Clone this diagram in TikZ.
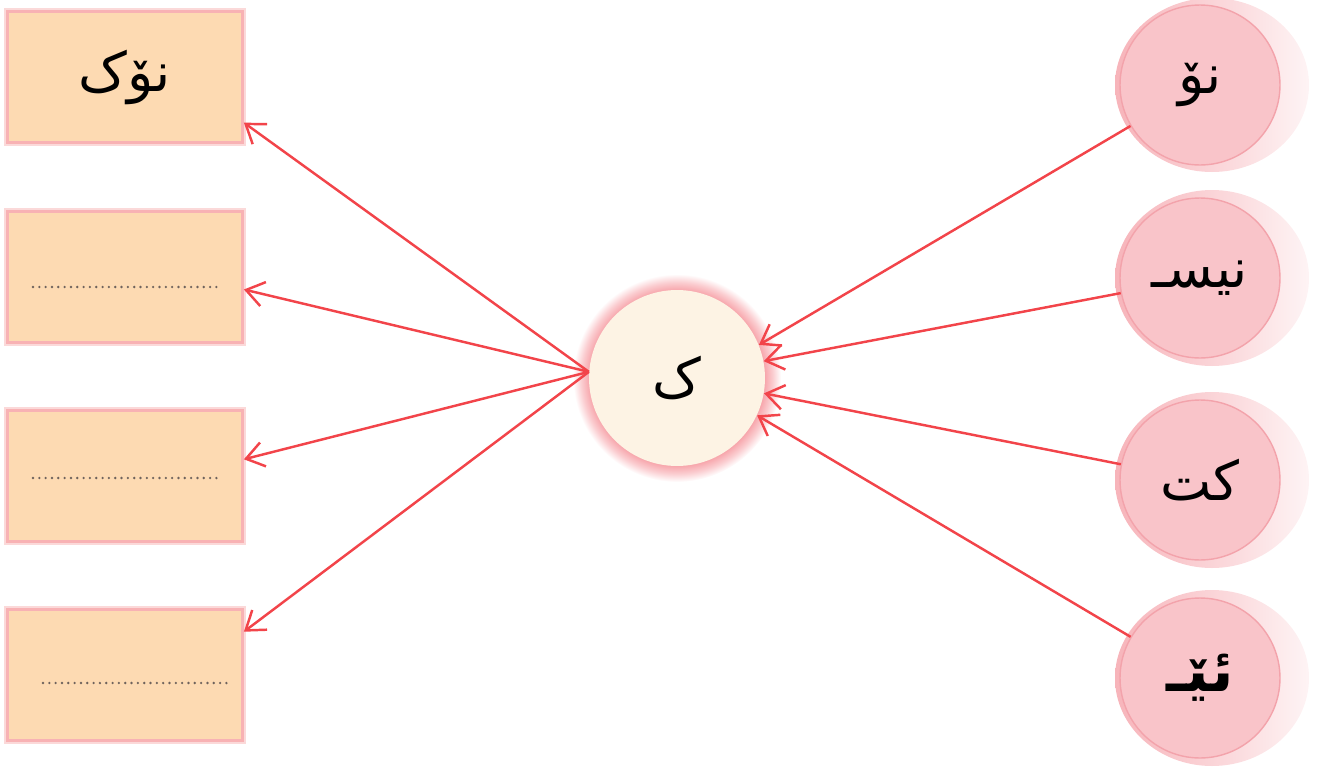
\documentclass[tikz,border=0pt]{standalone}
\usepackage{fontspec}
\usepackage{xcolor}
\usepackage{tikz}
\usetikzlibrary{arrows.meta}
\newfontfamily\arabicfont[Script=Arabic]{DejaVu Sans}
\TeXXeTstate=1
\definecolor{cred}{HTML}{F2444A}
\definecolor{cbox}{HTML}{FDDAB2}
\definecolor{cedge}{HTML}{F8B2B4}
\definecolor{ccream}{HTML}{FDF3E4}
\definecolor{cglow}{HTML}{F7A4AA}
\definecolor{cpink}{HTML}{F9C4C9}
\definecolor{cring}{HTML}{F3A3AB}
\definecolor{crim}{HTML}{F7B4BA}
\definecolor{cdots}{HTML}{6E625C}
\pgfdeclareradialshading{cenglow}{\pgfpoint{0bp}{0bp}}{%
  color(0bp)=(cglow); color(21bp)=(cglow); color(23bp)=(cglow!55!white);
  color(25bp)=(white); color(50bp)=(white)}

\begin{document}
\begin{tikzpicture}[x=0.02cm,y=-0.02cm,
  wordbox/.style={draw=cedge,fill=cbox,line width=1.6pt,
    minimum width=4.7cm,minimum height=2.62cm,
    preaction={draw=cedge!50,line width=4pt},
    font=\arabicfont\fontsize{31}{37}\selectfont},
  letterdisc/.style={circle,draw=cring,fill=cpink,line width=0.8pt,
    minimum size=3.2cm,inner sep=0pt,
    font=\arabicfont\fontsize{31}{37}\selectfont},
  arr/.style={cred,line width=1.4pt,-{Straight Barb[length=10pt,width=14pt,line width=1.4pt]}},
  dotrule/.style={cdots,line width=1.5pt,line cap=round,dash pattern=on 0pt off 3.6pt}]
  \useasboundingbox (0,0) rectangle (1323,771);

  % left boxes
  \node[wordbox] (b1) at (125,77) {\beginR نۆک\endR};
  \node[wordbox] (b2) at (125,277) {};
  \node[wordbox] (b3) at (125,476) {};
  \node[wordbox] (b4) at (125,675) {};
  \draw[dotrule] (33,287) -- (220,287);
  \draw[dotrule] (33,478) -- (220,478);
  \draw[dotrule] (43,683) -- (230,683);

  % centre letter
  \shade[shading=cenglow] (677,378) circle (104);
  \node[circle,fill=ccream,minimum size=3.52cm,inner sep=0pt,
    font=\arabicfont\fontsize{31}{37}\selectfont] (cen) at (677,378) {\beginR ک\endR};

  % right discs
  \shade[left color=crim,right color=white!85!crim] (1212,85) ellipse (97 and 87);
  \shade[left color=crim,right color=white!85!crim] (1212,278) ellipse (97 and 88);
  \shade[left color=crim,right color=white!85!crim] (1212,480) ellipse (97 and 88);
  \shade[left color=crim,right color=white!85!crim] (1212,678) ellipse (97 and 88);
  \node[letterdisc] (r1) at (1200,85) {\beginR نۆ\endR};
  \node[letterdisc] (r2) at (1200,278) {\beginR نیسـ\endR};
  \node[letterdisc] (r3) at (1200,480) {\beginR کت\endR};
  \node[letterdisc,font=\arabicfont\bfseries\fontsize{34}{40}\selectfont] (r4) at (1200,678) {\beginR ئێـ\endR};

  % arrows
  \draw[arr] (r1) -- (cen.22);
  \draw[arr] (r2) -- (cen.11);
  \draw[arr] (r3) -- (cen.-10);
  \draw[arr] (r4) -- (cen.-25);
  \draw[arr] (cen.176) -- (b1.-21);
  \draw[arr] (cen.176) -- (b2.-6);
  \draw[arr] (cen.176) -- (b3.8);
  \draw[arr] (cen.176) -- (b4.20);
\end{tikzpicture}
\end{document}
